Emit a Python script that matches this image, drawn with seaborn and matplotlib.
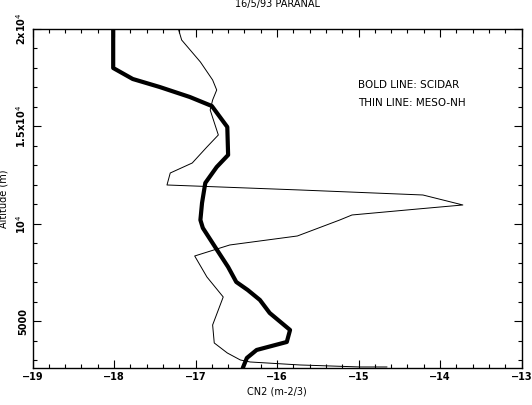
import matplotlib
matplotlib.use("Agg")
import matplotlib.pyplot as plt
import seaborn as sns
import pandas as pd
from matplotlib.ticker import MultipleLocator, FixedLocator

# SCIDAR (bold) profile: log10 CN2 vs altitude (m)
scidar_cn2 = [-18.01, -18.01, -17.77, -17.44, -17.07, -16.80, -16.61, -16.60, -16.74,
              -16.88, -16.92, -16.94, -16.91, -16.72, -16.60, -16.50, -16.36, -16.21,
              -16.09, -15.84, -15.88, -16.25, -16.37, -16.42]
scidar_alt = [20000, 18000, 17436, 17026, 16513, 16051, 14974, 13539, 12923,
              12103, 11077, 10205, 9795, 8565, 7795, 7026, 6616, 6103,
              5436, 4564, 3949, 3539, 3128, 2615]

# MESO-NH (thin) profile
meso_cn2 = [-17.21, -17.17, -16.94, -16.79, -16.74, -16.79, -16.82, -16.72, -16.86,
            -17.04, -17.31, -17.35, -15.72, -14.21, -13.72, -14.27, -15.08, -15.23,
            -15.75, -16.58, -17.01, -16.86, -16.66, -16.79, -16.77, -16.61, -16.45,
            -16.33, -15.72, -14.98, -14.65]
meso_alt = [20000, 19436, 18308, 17385, 16872, 16359, 15846, 14564, 13949,
            13128, 12615, 12000, 11744, 11487, 10975, 10770, 10462, 10205,
            9385, 8923, 8359, 7282, 6257, 4821, 3898, 3385, 3026,
            2923, 2770, 2667, 2667]

title = "16/5/93 PARANAL"
xlabel = "CN2 (m-2/3)"
ylabel = "Altitude (m)"
x_ticks = [-19, -18, -17, -16, -15, -14, -13]
x_ticklabels = ["\u221219", "\u221218", "\u221217", "\u221216", "\u221215", "\u221214", "\u221213"]
y_ticks = [5000, 10000, 15000, 20000]
y_ticklabels = ["5000", r"10$^4$", r"1.5x10$^4$", r"2x10$^4$"]
legend_lines = ["BOLD LINE: SCIDAR", "THIN LINE: MESO-NH"]

sns.set_theme(style="ticks")
plt.rcParams['font.family'] = ['DejaVu Sans']
plt.rcParams['text.color'] = 'black'
plt.rcParams['axes.labelcolor'] = 'black'
plt.rcParams['xtick.color'] = 'black'
plt.rcParams['ytick.color'] = 'black'

fig = plt.figure(figsize=(5.32, 4.05), dpi=100)
ax = fig.add_axes([0.0611, 0.0914, 0.9192, 0.8370])

df_s = pd.DataFrame({"cn2": scidar_cn2, "alt": scidar_alt})
df_m = pd.DataFrame({"cn2": meso_cn2, "alt": meso_alt})

sns.lineplot(data=df_s, x="cn2", y="alt", sort=False, estimator=None,
             color="black", linewidth=3.0, ax=ax)
sns.lineplot(data=df_m, x="cn2", y="alt", sort=False, estimator=None,
             color="black", linewidth=0.7, ax=ax)

ax.set_xlim(-19, -13)
ax.set_ylim(2615, 20000)

ax.xaxis.set_major_locator(FixedLocator(x_ticks))
ax.set_xticklabels(x_ticklabels)
ax.xaxis.set_minor_locator(MultipleLocator(0.2))
ax.yaxis.set_major_locator(FixedLocator(y_ticks))
ax.set_yticklabels(y_ticklabels, rotation=90, va="center")
ax.yaxis.set_minor_locator(MultipleLocator(1000))

ax.tick_params(which="both", direction="in", top=True, right=True,
               colors="black", labelcolor="black", labelsize=7, width=0.8)
ax.tick_params(which="major", length=6, pad=3)
ax.tick_params(which="minor", length=3)
for lab in ax.get_yticklabels():
    lab.set_fontweight("bold")
for lab in ax.get_xticklabels():
    lab.set_fontweight("bold")

for sp in ax.spines.values():
    sp.set_color("black")
    sp.set_linewidth(1.0)

ax.set_xlabel(xlabel, fontsize=7, labelpad=3, color="black")
ax.set_ylabel(ylabel, fontsize=7, labelpad=4, color="black")
ax.set_title(title, fontsize=7, pad=16, color="black")

ax.text(0.665, 0.834, legend_lines[0], transform=ax.transAxes, fontsize=7.5,
        va="center", color="black")
ax.text(0.665, 0.781, legend_lines[1], transform=ax.transAxes, fontsize=7.5,
        va="center", color="black")

fig.savefig("out.png", dpi=100, facecolor="white")
